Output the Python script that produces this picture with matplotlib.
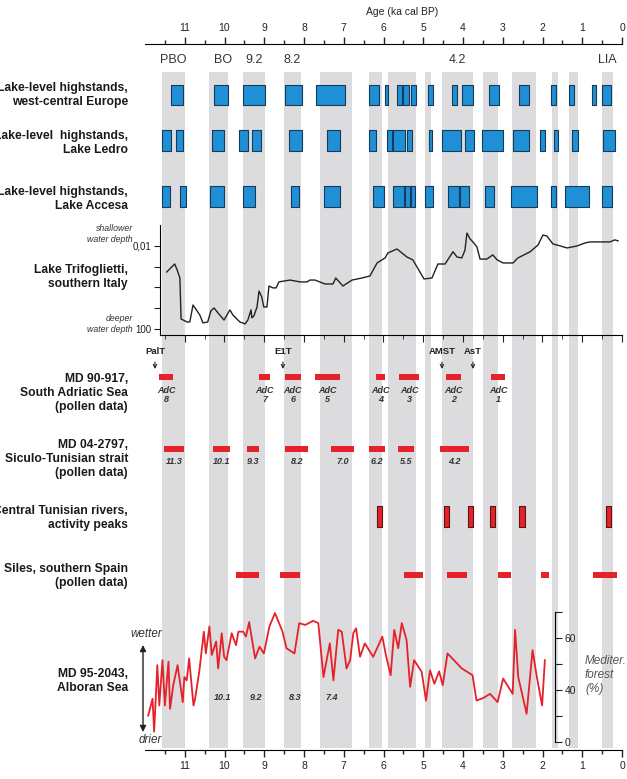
import matplotlib.pyplot as plt
from matplotlib.ticker import FixedLocator, NullLocator
import numpy as np

plt.rcParams['font.family'] = ['Liberation Sans', 'DejaVu Sans']

W, H = 627, 779

# grey bands, ka cal BP (older, younger)
band_old = [11.57, 10.39, 9.53, 8.50, 7.60, 6.36, 5.89, 4.96, 4.53, 3.50, 2.77, 1.76, 1.33, 0.50]
band_young = [10.99, 9.91, 8.98, 8.08, 6.79, 6.04, 5.18, 4.81, 3.75, 3.12, 2.16, 1.61, 1.11, 0.23]

event_names = ['PBO', 'BO', '9.2', '8.2', '4.2', 'LIA']
event_ages = [11.28, 10.04, 9.25, 8.29, 4.14, 0.37]

# lake-level highstands (older, younger)
europe_high = [(11.35, 11.05), (10.26, 9.90), (9.54, 8.98), (8.48, 8.06), (7.70, 6.97),
               (6.36, 6.11), (5.96, 5.88), (5.65, 5.53), (5.52, 5.37), (5.31, 5.19),
               (4.87, 4.75), (4.28, 4.14), (4.02, 3.75), (3.35, 3.10), (2.58, 2.33),
               (1.79, 1.67), (1.33, 1.20), (0.75, 0.66), (0.50, 0.28)]
ledro_high = [(11.56, 11.35), (11.23, 11.04), (10.31, 10.01), (9.64, 9.42), (9.30, 9.09),
              (8.38, 8.06), (7.43, 7.09), (6.36, 6.20), (5.91, 5.79), (5.75, 5.45),
              (5.42, 5.28), (4.86, 4.78), (4.52, 4.05), (3.94, 3.73), (3.52, 2.99),
              (2.73, 2.34), (2.06, 1.94), (1.71, 1.62), (1.27, 1.11), (0.47, 0.18)]
accesa_high = [(11.58, 11.37), (11.12, 10.97), (10.36, 10.01), (9.54, 9.23), (8.33, 8.13),
               (7.49, 7.09), (6.27, 5.99), (5.75, 5.48), (5.45, 5.33), (5.32, 5.20),
               (4.95, 4.75), (4.37, 4.11), (4.08, 3.85), (3.44, 3.21), (2.79, 2.13),
               (1.79, 1.67), (1.43, 0.84), (0.50, 0.24)]

# Lake Trifoglietti water depth curve
trif_age = [11.45, 11.25, 11.19, 11.12, 11.09, 10.94, 10.87, 10.79, 10.62, 10.54,
            10.42, 10.34, 10.26, 10.16, 10.01, 9.86, 9.79, 9.61, 9.48, 9.41,
            9.33, 9.31, 9.26, 9.18, 9.13, 9.06, 9.01, 8.93, 8.88, 8.78,
            8.70, 8.63, 8.35, 8.10, 7.92, 7.85, 7.72, 7.47, 7.27, 7.20,
            7.02, 6.79, 6.54, 6.34, 6.16, 5.96, 5.89, 5.66, 5.41, 5.26,
            4.98, 4.78, 4.63, 4.45, 4.25, 4.15, 4.03, 3.95, 3.90, 3.82,
            3.75, 3.65, 3.57, 3.40, 3.25, 3.14, 2.99, 2.74, 2.62, 2.31,
            2.11, 1.99, 1.89, 1.74, 1.38, 1.13, 0.93, 0.81, 0.30, 0.18, 0.10]
trif_depth = [0.18, 0.074, 0.14, 0.35, 33, 46, 46, 7, 21, 51,
              46, 13.5, 9.7, 17, 37, 12, 21, 46, 57, 37,
              12, 29, 24, 8.7, 1.5, 2.9, 8.7, 8.7, 0.85, 1.05,
              1.05, 0.54, 0.44, 0.54, 0.54, 0.44, 0.44, 0.68, 0.68, 0.35,
              0.85, 0.44, 0.35, 0.28, 0.066, 0.038, 0.022, 0.014, 0.034, 0.047,
              0.39, 0.35, 0.074, 0.074, 0.019, 0.034, 0.038, 0.016, 0.0024, 0.0046,
              0.0064, 0.011, 0.043, 0.043, 0.027, 0.047, 0.066, 0.066, 0.038, 0.019,
              0.0089, 0.0030, 0.0033, 0.0079, 0.0125, 0.010, 0.0072, 0.0064, 0.0064, 0.0051, 0.0057]

# MD 90-917 AdC events
adc_events = [(11.64, 11.30), (9.12, 8.86), (8.48, 8.08), (7.72, 7.09),
              (6.19, 5.96), (5.61, 5.11), (4.43, 4.06), (3.30, 2.94)]
adc_names = ['8', '7', '6', '5', '4', '3', '2', '1']
tephra_names = ['PalT', 'E1T', 'AMST', 'AsT']
tephra_ages = [11.75, 8.53, 4.53, 3.75]

# MD 04-2797 events
siculo_events = [(11.51, 11.01), (10.30, 9.86), (9.44, 9.12), (8.48, 7.89),
                 (7.33, 6.74), (6.36, 5.96), (5.64, 5.23), (4.58, 3.84)]
siculo_names = ['11.3', '10.1', '9.3', '8.2', '7.0', '6.2', '5.5', '4.2']

# Central Tunisian rivers activity peaks
tunisia_peaks = [(6.16, 6.03), (4.48, 4.35), (3.88, 3.76), (3.32, 3.19), (2.58, 2.44), (0.40, 0.28)]

# Siles
siles_events = [(9.72, 9.12), (8.60, 8.10), (5.48, 5.00), (4.40, 3.89),
                (3.11, 2.78), (2.03, 1.83), (0.72, 0.12)]

# MD 95-2043 Mediterranean forest
alb_age = [11.92, 11.81, 11.77, 11.69, 11.64, 11.56, 11.50, 11.41, 11.37, 11.29,
           11.18, 11.05, 11.01, 10.95, 10.89, 10.78, 10.74, 10.63, 10.52, 10.47,
           10.38, 10.32, 10.21, 10.16, 10.07, 10.01, 9.95, 9.82, 9.71, 9.65,
           9.53, 9.46, 9.38, 9.23, 9.12, 9.01, 8.87, 8.73, 8.54, 8.44,
           8.24, 8.12, 7.97, 7.77, 7.64, 7.51, 7.35, 7.26, 7.14, 7.05,
           6.93, 6.84, 6.76, 6.69, 6.59, 6.47, 6.26, 6.03, 5.94, 5.82,
           5.73, 5.63, 5.54, 5.42, 5.33, 5.23, 5.04, 4.93, 4.83, 4.72,
           4.60, 4.51, 4.39, 4.03, 3.76, 3.66, 3.49, 3.32, 3.13, 2.99,
           2.75, 2.69, 2.61, 2.40, 2.25, 2.15, 2.01, 1.94]
alb_forest = [30.0, 36.5, 23.8, 49.5, 33.9, 51.4, 33.9, 50.8, 32.6, 41.7,
              49.5, 35.2, 44.9, 43.6, 52.1, 33.9, 36.5, 47.5, 62.4, 54.0,
              64.4, 53.4, 58.6, 48.2, 61.8, 52.7, 51.4, 61.8, 57.2, 62.4,
              62.4, 60.5, 66.1, 52.1, 56.6, 54.0, 64.4, 69.6, 62.4, 56.0,
              54.0, 65.7, 65.0, 66.6, 65.7, 44.9, 57.9, 43.6, 63.1, 62.4,
              48.2, 51.4, 61.8, 63.7, 52.7, 57.9, 52.7, 60.5, 53.4, 45.6,
              63.1, 56.0, 65.7, 59.2, 41.1, 51.4, 46.9, 35.8, 47.5, 42.3,
              47.1, 41.7, 54.0, 48.2, 45.6, 35.8, 36.8, 38.4, 35.2, 44.3,
              38.4, 63.1, 44.9, 30.7, 55.3, 45.6, 33.9, 51.4]
alb_names = ['10.1', '9.2', '8.3', '7.4']
alb_name_ages = [10.05, 9.20, 8.22, 7.30]

row_labels = ['Lake-level highstands,\nwest-central Europe',
              'Lake-level  highstands,\nLake Ledro',
              'Lake-level highstands,\nLake Accesa',
              'Lake Trifoglietti,\nsouthern Italy',
              'MD 90-917,\nSouth Adriatic Sea\n(pollen data)',
              'MD 04-2797,\nSiculo-Tunisian strait\n(pollen data)',
              'Central Tunisian rivers,\nactivity peaks',
              'Siles, southern Spain\n(pollen data)',
              'MD 95-2043,\nAlboran Sea']
row_label_y = [95, 143, 199, 277, 393, 459, 518, 576, 681]
row_label_spacing = [1.12, 1.12, 1.12, 1.2, 1.26, 1.26, 1.2, 1.2, 1.2]

GREY = '#dcdcde'
BLUE = '#1f90d6'
RED = '#e52129'
DARK = '#222222'


def box(left, top, right, bottom):
    return [left / W, 1 - bottom / H, (right - left) / W, (bottom - top) / H]


def fpos(x, y):
    return (x / W, 1 - y / H)


fig = plt.figure(figsize=(W / 100, H / 100), dpi=100)

# main axes: y in pixel rows (layout), x in ka
ax = fig.add_axes(box(145, 44, 622, 750))
ax.set_xlim(12, 0)
ax.set_ylim(750, 44)
for s, e in zip(band_old, band_young):
    ax.axvspan(e, s, ymin=2 / 706, ymax=678 / 706, color=GREY, lw=0, zorder=0)

ax.spines['left'].set_visible(False)
ax.spines['right'].set_visible(False)
ax.set_yticks([])
ax.set_xticks(range(12))
ax.xaxis.set_minor_locator(FixedLocator(np.arange(0.5, 12, 1)))
ax.tick_params(axis='x', which='both', top=True, bottom=True, labeltop=True,
               labelbottom=True, direction='out', width=1, colors=DARK, labelsize=7.5)
ax.tick_params(axis='x', which='major', length=5, pad=3)
ax.tick_params(axis='x', which='minor', length=3)
fig.text(*fpos(402, 12), 'Age (ka cal BP)', ha='center', va='center', fontsize=7.5, color=DARK)

for name, age in zip(event_names, event_ages):
    ax.text(age, 60, name, ha='center', va='center', fontsize=9, color='#333333')


def bars(events, top, height, color, edge=None):
    ax.broken_barh([(y, o - y) for o, y in events], (top, height), facecolors=color,
                   edgecolors=edge if edge else 'none', linewidth=0.8, zorder=2)


bars(europe_high, 85, 20, BLUE, '#173a58')
bars(ledro_high, 130, 21, BLUE, '#173a58')
bars(accesa_high, 186, 21, BLUE, '#173a58')
bars(adc_events, 374, 6, RED)
bars(siculo_events, 446, 6, RED)
bars(tunisia_peaks, 506, 21, RED, '#5a1515')
bars(siles_events, 572, 6, RED)

for (o, y), n in zip(adc_events, adc_names):
    ax.text((o + y) / 2, 395, 'AdC\n' + n, ha='center', va='center', fontsize=6.5,
            fontweight='bold', fontstyle='italic', color='#333333', linespacing=1.1)
for (o, y), n in zip(siculo_events, siculo_names):
    ax.text((o + y) / 2, 461, n, ha='center', va='center', fontsize=6.5,
            fontweight='bold', fontstyle='italic', color='#333333')
for age, n in zip(alb_name_ages, alb_names):
    ax.text(age, 698, n, ha='center', va='center', fontsize=6.5,
            fontweight='bold', fontstyle='italic', color='#333333')
for age, n in zip(tephra_ages, tephra_names):
    ax.annotate(n, xy=(age, 369), xytext=(age, 352), ha='center', va='center',
                fontsize=6.8, fontweight='bold', color=DARK,
                arrowprops=dict(arrowstyle='->', color=DARK, lw=0.8, mutation_scale=6,
                                shrinkA=2, shrinkB=0))

for lab, y, ls in zip(row_labels, row_label_y, row_label_spacing):
    fig.text(*fpos(128, y), lab, ha='right', va='center', fontsize=8.7,
             fontweight='bold', color='#1a1a1a', linespacing=ls)

# Lake Trifoglietti panel
axt = fig.add_axes(box(160, 225, 622, 335), facecolor='none')
axt.set_xlim(11.62, 0)
axt.set_yscale('log')
axt.set_ylim(195, 0.00098)
axt.plot(trif_age, trif_depth, color=DARK, lw=1)
axt.spines['top'].set_visible(False)
axt.spines['right'].set_visible(False)
axt.set_yticks([0.01, 0.1, 1, 10, 100])
axt.set_yticklabels(['0,01', '', '', '', '100'])
axt.yaxis.set_minor_locator(NullLocator())
axt.set_xticks(range(12))
axt.xaxis.set_minor_locator(FixedLocator(np.arange(0.5, 11.6, 1)))
axt.tick_params(axis='x', which='both', labelbottom=False, direction='out', colors=DARK)
axt.tick_params(axis='x', which='major', length=5)
axt.tick_params(axis='x', which='minor', length=3)
axt.tick_params(axis='y', length=4, labelsize=7, colors=DARK, pad=2)
fig.text(*fpos(133, 234), 'shallower\nwater depth', ha='right', va='center', fontsize=6.3,
         fontstyle='italic', color='#333333', linespacing=1.4)
fig.text(*fpos(133, 324), 'deeper\nwater depth', ha='right', va='center', fontsize=6.3,
         fontstyle='italic', color='#333333', linespacing=1.4)

# Alboran panel
axa = fig.add_axes(box(145, 612, 622, 741.5), facecolor='none')
axa.set_xlim(12, 0)
axa.set_ylim(20, 70)
axa.plot(alb_age, alb_forest, color=RED, lw=1.3)
for s in ['top', 'bottom', 'left']:
    axa.spines[s].set_visible(False)
axa.spines['right'].set_position(('data', 1.69))
axa.yaxis.tick_right()
axa.set_xticks([])
axa.set_yticks([20, 30, 40, 50, 60, 70])
axa.set_yticklabels(['0', '', '40', '', '60', ''])
axa.tick_params(axis='y', length=5, labelsize=7.5, colors=DARK, pad=2)
fig.text(*fpos(585, 675), 'Mediter.\nforest\n(%)', ha='left', va='center', fontsize=8.5,
         fontstyle='italic', color='#555555', linespacing=1.2)

fig.text(*fpos(162, 634), 'wetter', ha='right', va='center', fontsize=8.4,
         fontstyle='italic', color='#333333')
fig.text(*fpos(162, 740), 'drier', ha='right', va='center', fontsize=8.4,
         fontstyle='italic', color='#333333')
ax.annotate('', xy=fpos(143, 732), xytext=fpos(143, 645), xycoords='figure fraction',
            textcoords='figure fraction',
            arrowprops=dict(arrowstyle='<|-|>', color=DARK, lw=1, mutation_scale=9,
                            shrinkA=0, shrinkB=0))

fig.savefig('out.png', dpi=100)
